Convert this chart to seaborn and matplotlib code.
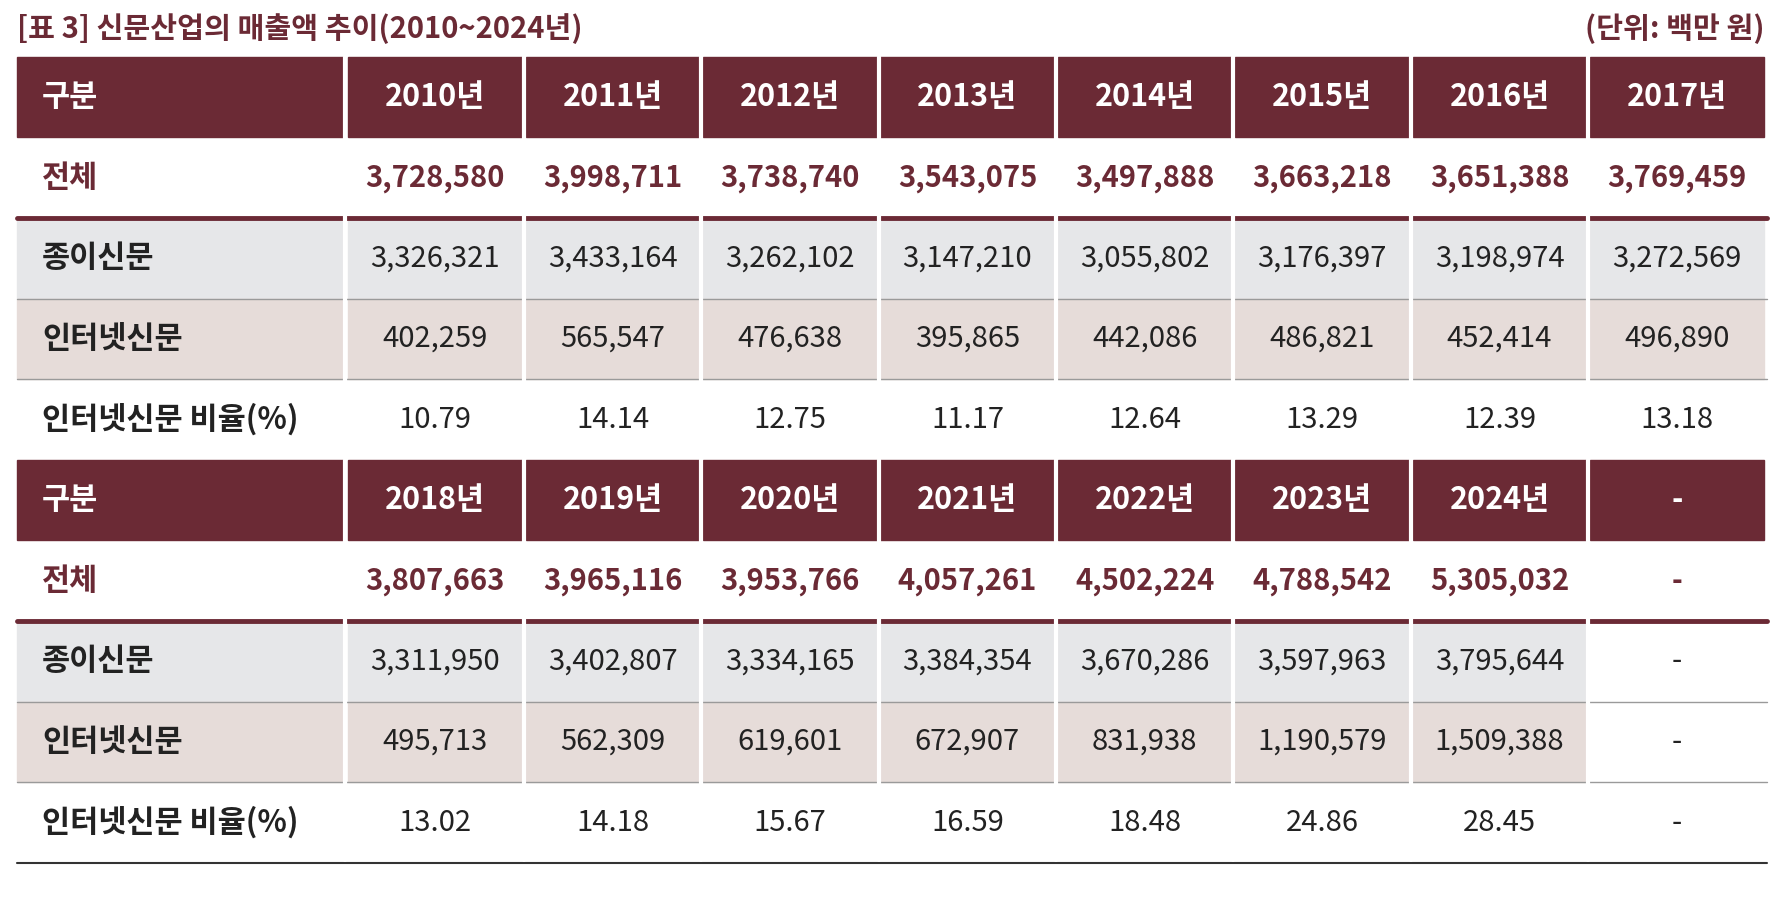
import matplotlib
matplotlib.use("Agg")
import matplotlib.pyplot as plt
import matplotlib.patches as mpatches
import seaborn as sns

sns.set_theme(style="white")
plt.rcParams['font.family'] = ['Noto Sans CJK KR', 'DejaVu Sans']

title = "[표 3] 신문산업의 매출액 추이(2010~2024년)"
unit = "(단위: 백만 원)"
row_labels = ["전체", "종이신문", "인터넷신문", "인터넷신문 비율(%)"]

years_a = ["2010년", "2011년", "2012년", "2013년", "2014년", "2015년", "2016년", "2017년"]
total_a = ["3,728,580", "3,998,711", "3,738,740", "3,543,075", "3,497,888", "3,663,218", "3,651,388", "3,769,459"]
paper_a = ["3,326,321", "3,433,164", "3,262,102", "3,147,210", "3,055,802", "3,176,397", "3,198,974", "3,272,569"]
online_a = ["402,259", "565,547", "476,638", "395,865", "442,086", "486,821", "452,414", "496,890"]
ratio_a = ["10.79", "14.14", "12.75", "11.17", "12.64", "13.29", "12.39", "13.18"]

years_b = ["2018년", "2019년", "2020년", "2021년", "2022년", "2023년", "2024년", "-"]
total_b = ["3,807,663", "3,965,116", "3,953,766", "4,057,261", "4,502,224", "4,788,542", "5,305,032", "-"]
paper_b = ["3,311,950", "3,402,807", "3,334,165", "3,384,354", "3,670,286", "3,597,963", "3,795,644", "-"]
online_b = ["495,713", "562,309", "619,601", "672,907", "831,938", "1,190,579", "1,509,388", "-"]
ratio_b = ["13.02", "14.18", "15.67", "16.59", "18.48", "24.86", "28.45", "-"]

MAROON = "#6b2a35"
GREY = "#e6e7e9"
PINK = "#e6dcd9"
TEXT = "#222222"

W, H = 1568, 792
fig = plt.figure(figsize=(17.76, 8.97), dpi=100)
ax = fig.add_axes([0, 0, 1, 1])
ax.set_xlim(0, W)
ax.set_ylim(H, 0)
ax.axis("off")

ax.text(15, 25, title, fontsize=21, fontweight="bold", color=MAROON, va="center", ha="left")
ax.text(1558, 25, unit, fontsize=21, fontweight="bold", color=MAROON, va="center", ha="right")

x0, first_w = 15, 291
col_w = 156.6
rh = 71.2
n = 8


def col_x(i):
    return x0 + first_w + i * col_w


def draw_block(top, years, rows):
    # header
    ax.add_patch(mpatches.Rectangle((x0, top), first_w - 2, rh, color=MAROON))
    ax.text(x0 + 22, top + rh / 2, "구분", color="white", fontsize=22, fontweight="bold", va="center")
    for i, y in enumerate(years):
        ax.add_patch(mpatches.Rectangle((col_x(i) + 1.5, top), col_w - 3, rh, color=MAROON))
        ax.text(col_x(i) + col_w / 2, top + rh / 2, y, color="white", fontsize=22,
                fontweight="bold", va="center", ha="center")
    bgs = [None, GREY, PINK, None]
    for r, (lab, vals) in enumerate(zip(row_labels, rows)):
        yt = top + rh * (r + 1)
        if bgs[r]:
            ax.add_patch(mpatches.Rectangle((x0, yt), first_w - 2, rh, color=bgs[r]))
            for i in range(n):
                if vals[i] != "-":
                    ax.add_patch(mpatches.Rectangle((col_x(i) + 1.5, yt), col_w - 3, rh, color=bgs[r]))
        tc = MAROON if r == 0 else TEXT
        ax.text(x0 + 22, yt + rh / 2, lab, color=tc, fontsize=22, fontweight="bold", va="center")
        for i, v in enumerate(vals):
            ax.text(col_x(i) + col_w / 2, yt + rh / 2, v, color=tc, fontsize=21,
                    fontweight="bold" if r == 0 else "normal", va="center", ha="center")
        yb = yt + rh
        if r == 0:
            ax.plot([x0, W - 8], [yb, yb], color=MAROON, lw=3.5)
        elif r < 3:
            ax.plot([x0, W - 8], [yb, yb], color="#9a9a9a", lw=1)
    # white column gaps over the whole block
    ybot = top + rh * 5 - 3
    for xs in [x0 + first_w - 1] + [col_x(i) for i in range(1, n)]:
        ax.plot([xs, xs], [top, ybot], color="white", lw=3, zorder=5)


draw_block(50, years_a, [total_a, paper_a, online_a, ratio_a])
draw_block(50 + rh * 5, years_b, [total_b, paper_b, online_b, ratio_b])
yend = 50 + rh * 10
ax.plot([x0, W - 8], [yend, yend], color="#333333", lw=1.5)

fig.savefig("out.png", dpi=100, facecolor="white")
